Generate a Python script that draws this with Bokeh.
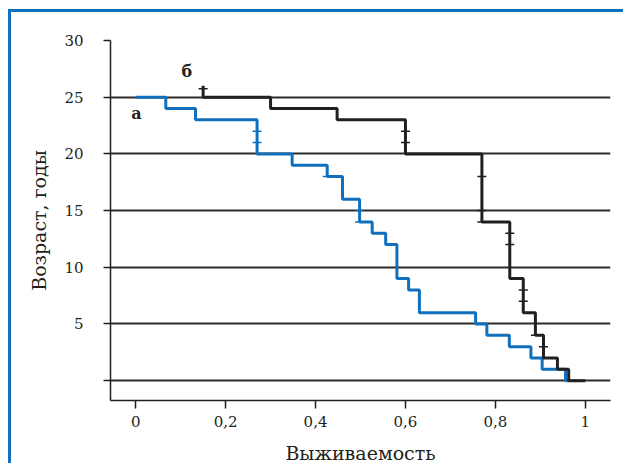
from bokeh.plotting import figure
from bokeh.models import FixedTicker, Range1d
from bokeh.core.properties import value
from bokeh.embed import file_html
from bokeh.resources import INLINE

# Series а (blue): survival (x) vs age (y), step curve
a_surv = [0.0, 0.067, 0.133, 0.27, 0.348, 0.426, 0.46, 0.498, 0.526, 0.556,
          0.581, 0.607, 0.631, 0.756, 0.781, 0.831, 0.879, 0.904, 0.956, 0.963]
a_age = [25, 24, 23, 20, 19, 18, 16, 14, 13, 12, 9, 8, 6, 5, 4, 3, 2, 1, 0, 0]
a_cens_surv = [0.27, 0.27, 0.426, 0.498, 0.498]
a_cens_age = [22, 21, 18, 15, 14]

# Series б (black)
b_surv = [0.15, 0.15, 0.30, 0.448, 0.60, 0.77, 0.832, 0.862, 0.889, 0.907,
          0.938, 0.963, 1.0]
b_age = [26, 25, 24, 23, 20, 14, 9, 6, 4, 2, 1, 0, 0]
b_cens_surv = [0.15, 0.60, 0.60, 0.77, 0.77, 0.77, 0.832, 0.832, 0.862, 0.862, 0.889, 0.907]
b_cens_age = [25.75, 22, 21, 18, 15, 14, 13, 12, 8, 7, 4, 3]

# Curve labels
label_x = [-0.01, 0.102]
label_y = [23.6, 27.3]
label_text = ["а", "б"]

x_ticks = [0, 0.2, 0.4, 0.6, 0.8, 1.0]
x_tick_labels = ["0", "0,2", "0,4", "0,6", "0,8", "1"]
y_ticks = [0, 5, 10, 15, 20, 25, 30]
y_tick_labels = ["", "5", "10", "15", "20", "25", "30"]

BLUE = "#1170bd"
BLACK = "#231f20"
FONT = "DejaVu Serif"

W, H = 615, 454
ML, MT, MR, MB = 99, 28, 16, 66

p = figure(width=W, height=H, output_backend="svg", toolbar_location=None,
           x_range=Range1d(-0.056, 1.056), y_range=Range1d(-1.75, 30),
           min_border_left=ML, min_border_top=MT, min_border_right=MR,
           min_border_bottom=MB,
           styles={"margin-left": "8px", "margin-top": "9px",
                   "border-top": f"3px solid {BLUE}",
                   "border-left": f"3px solid {BLUE}"})
p.outline_line_color = None
p.xgrid.grid_line_color = None
p.ygrid.grid_line_color = "#2a2a2a"
p.ygrid.grid_line_width = 2
p.ygrid.ticker = FixedTicker(ticks=y_ticks)

p.xaxis.ticker = FixedTicker(ticks=x_ticks)
p.xaxis.major_label_overrides = {t: l for t, l in zip(x_ticks, x_tick_labels)}
p.yaxis.ticker = FixedTicker(ticks=y_ticks)
p.yaxis.major_label_overrides = {t: l for t, l in zip(y_ticks, y_tick_labels)}

for ax in (p.xaxis, p.yaxis):
    ax.axis_line_color = BLACK
    ax.axis_line_width = 1.5
    ax.major_tick_line_color = BLACK
    ax.major_tick_line_width = 1.5
    ax.major_tick_in = 0
    ax.minor_tick_line_color = None
    ax.major_label_text_font = FONT
    ax.major_label_text_font_size = "15px"
    ax.major_label_text_color = BLACK
    ax.axis_label_text_font = FONT
    ax.axis_label_text_font_size = "19px"
    ax.axis_label_text_font_style = "normal"
    ax.axis_label_text_color = BLACK

p.xaxis.major_tick_out = 8
p.xaxis.major_label_standoff = 7
p.xaxis.axis_label = "Выживаемость"
p.xaxis.axis_label_standoff = 12
p.yaxis.major_tick_out = 7
p.yaxis.major_label_standoff = 20
p.yaxis.axis_label = "Возраст, годы"
p.yaxis.axis_label_standoff = 11

p.step(a_surv, a_age, mode="after", line_color=BLUE, line_width=3)
p.step(b_surv, b_age, mode="after", line_color=BLACK, line_width=3)
p.scatter(a_cens_surv, a_cens_age, marker="dash", size=9, line_color=BLUE, line_width=1.5)
p.scatter(b_cens_surv, b_cens_age, marker="dash", size=9, line_color=BLACK, line_width=1.5)

p.text(label_x, label_y, text=label_text, text_font=value(FONT), text_font_style="bold",
       text_font_size="16px", text_color=BLACK, text_align="left", text_baseline="middle")

open("out.html", "w").write(file_html(p, INLINE))
